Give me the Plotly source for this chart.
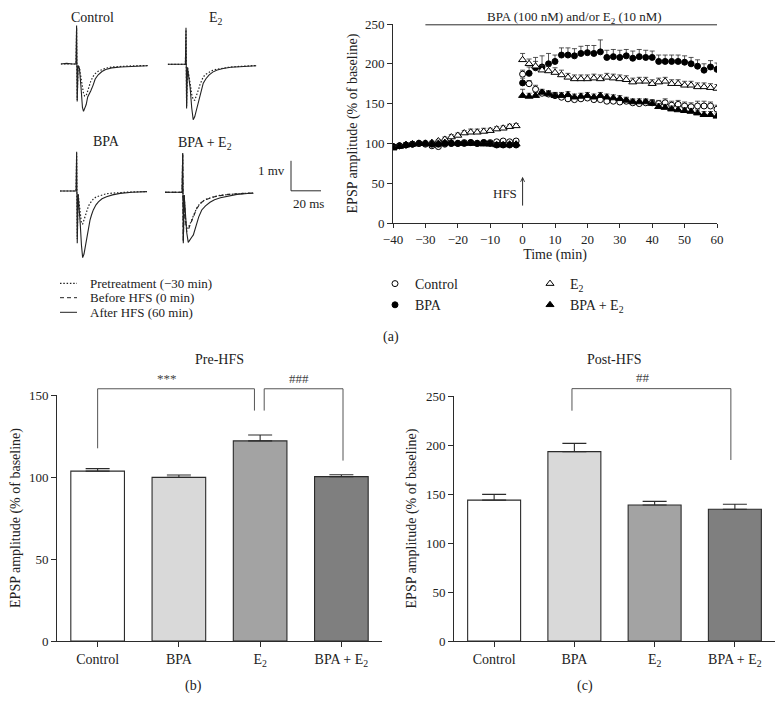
import plotly.graph_objects as go

# the page body adds an 8px margin, so the figure is drawn 8px smaller and all
# positions below are given in page pixels of the 783x712 window
PAGE_W, PAGE_H, BODY = 783, 712, 8
W, H = PAGE_W - BODY, PAGE_H - BODY
FONT = "Liberation Serif"
INK = "#2b2b2b"

# ---------------- time course data (% of baseline) ----------------
times_pre = [-40, -38, -36, -34, -32, -30, -28, -26, -24, -22, -20, -18, -16, -14, -12, -10, -8, -6, -4, -2]
times_post = [0, 2, 4, 6, 8, 10, 12, 14, 16, 18, 20, 22, 24, 26, 28, 30, 32, 34, 36, 38, 40,
              42, 44, 46, 48, 50, 52, 54, 56, 58, 60]
times = times_pre + times_post

control_tc = [96, 97, 98, 99, 100, 99, 97, 96, 99, 100, 100, 101, 101, 100, 101, 101, 102, 103, 102, 103,
              187, 175, 168, 163, 162, 160, 158, 156, 155, 156, 157, 155, 155, 153, 153, 152, 153, 151, 150, 151, 151,
              150, 151, 148, 149, 147, 146, 147, 147, 147, 143]
control_err = [2, 2, 2, 2, 2, 2, 2, 2, 2, 2, 2, 2, 2, 2, 2, 2, 2, 2, 2, 2,
               5, 4, 5, 4, 4, 4, 4, 4, 4, 4, 4, 4, 4, 4, 4, 4, 4, 4, 4, 4, 4,
               4, 5, 5, 5, 5, 5, 6, 6, 5, 5]
bpa_tc = [96, 97, 98, 99, 100, 100, 99, 99, 100, 100, 100, 100, 101, 100, 101, 100, 98, 98, 98, 98,
          176, 188, 195, 196, 200, 203, 211, 211, 210, 213, 214, 213, 215, 208, 209, 208, 210, 207, 209, 208, 208,
          203, 203, 203, 203, 202, 200, 197, 192, 196, 193]
bpa_err = [2, 2, 2, 2, 2, 2, 2, 2, 2, 2, 2, 2, 2, 2, 2, 2, 2, 2, 2, 2,
           6, 8, 13, 14, 13, 8, 9, 9, 9, 9, 9, 10, 15, 9, 9, 9, 8, 9, 9, 9, 8,
           8, 8, 8, 8, 8, 8, 8, 8, 8, 8]
e2_tc = [95, 97, 98, 99, 100, 100, 101, 103, 105, 108, 110, 113, 114, 114, 115, 116, 118, 119, 121, 122,
         205, 200, 197, 192, 191, 189, 186, 183, 181, 181, 181, 182, 181, 183, 182, 181, 180, 177, 178, 178, 175,
         177, 178, 175, 175, 173, 173, 171, 171, 170, 169]
e2_err = [2, 2, 2, 2, 2, 2, 2, 2, 3, 3, 3, 3, 4, 4, 4, 3, 3, 3, 3, 3,
          8, 6, 6, 6, 6, 6, 6, 5, 5, 5, 5, 5, 5, 5, 5, 5, 5, 5, 5, 5, 5,
          5, 5, 5, 5, 5, 5, 5, 5, 5, 5]
bpae2_tc = [94, 96, 98, 99, 100, 100, 100, 100, 101, 101, 100, 100, 100, 100, 99, 99, 98, 98, 99, 99,
            160, 159, 160, 164, 162, 160, 160, 161, 158, 159, 160, 158, 160, 158, 157, 156, 154, 152, 152, 152, 150,
            146, 145, 143, 142, 141, 140, 138, 136, 136, 134]
bpae2_err = [2, 2, 2, 2, 2, 2, 2, 2, 2, 2, 2, 2, 2, 2, 2, 2, 2, 2, 2, 2,
             8, 4, 4, 4, 4, 4, 4, 4, 4, 4, 4, 4, 4, 4, 4, 4, 4, 4, 4, 4, 4,
             4, 4, 4, 4, 4, 4, 4, 4, 4, 4]

# ---------------- bar chart data ----------------
groups = ["Control", "BPA", "E<sub>2</sub>", "BPA + E<sub>2</sub>"]
bar_colors = ["#ffffff", "#d9d9d9", "#a3a3a3", "#7f7f7f"]
pre_hfs = [103.6, 99.8, 122.0, 100.2]
pre_hfs_err = [1.5, 1.4, 3.6, 1.2]
post_hfs = [143.8, 193.2, 138.8, 134.4]
post_hfs_err = [5.8, 8.5, 3.7, 5.1]

# brackets: left x, right x, left foot, top, right foot, label
pre_brackets = [(0, 1.93, 117.5, 153.8, 140.5, "***"), (2.05, 3.02, 140.5, 153.8, 110.0, "###")]
post_brackets = [(0.97, 2.95, 235.0, 257.5, 184.7, "##")]

# ---------------- example field potential traces (ms, mV) ----------------
ctrl_t = [0, 4, 8, 10.2, 10.6, 11.0, 11.6, 12.5, 13.5, 14.5, 15.2, 16, 17, 18, 19, 20, 21.5, 23, 25, 27.5, 30, 34, 40, 48, 58]
ctrl_after = [0, 0.02, 0, 0, 1.28, -1.25, -0.05, -0.15, -0.75, -1.45, -1.58, -1.5, -1.35, -1.1, -0.97, -0.9, -0.72, -0.5,
              -0.36, -0.25, -0.18, -0.13, -0.1, -0.08, -0.06]
ctrl_pre = [0, 0, 0, 0, 1.2, -1.2, -0.05, -0.12, -0.45, -0.8, -0.98, -1.07, -1.05, -0.9, -0.72, -0.58, -0.42, -0.32,
            -0.24, -0.18, -0.14, -0.1, -0.08, -0.06, -0.05]

e2_t = [0, 4, 8, 11.8, 12.2, 12.6, 13.2, 14, 15, 16, 17, 18, 19.3, 20.5, 21.5, 22.5, 23.7, 25.5, 27.5, 30, 33, 37, 42, 48, 54, 59]
e2_after = [0, 0, 0, 0, 1.22, -1.47, -0.1, -0.35, -0.8, -1.45, -1.85, -1.75, -1.47, -1.25, -1.06, -0.85, -0.63, -0.48,
            -0.36, -0.26, -0.19, -0.14, -0.1, -0.08, -0.06, -0.05]
e2_pre = [0, 0, 0, 0, 1.15, -1.4, -0.1, -0.3, -0.65, -1.0, -1.18, -1.2, -1.05, -0.85, -0.68, -0.55, -0.42, -0.33,
          -0.26, -0.2, -0.16, -0.12, -0.09, -0.07, -0.05, -0.04]

bpa_t = [0, 4, 8, 10.7, 11.1, 11.5, 12.1, 12.8, 13.5, 14.3, 15.1, 16, 17, 18, 19, 20, 21, 22.2, 24, 25.6, 28, 31, 35, 40, 48, 58]
bpa_after = [0, 0, 0, 0, 1.31, -1.74, -0.1, -0.5, -1.1, -1.8, -2.22, -2.1, -1.8, -1.5, -1.22, -0.97, -0.8, -0.63,
             -0.46, -0.36, -0.26, -0.19, -0.13, -0.08, -0.04, -0.02]
bpa_pre = [0, 0, 0, 0, 1.25, -1.6, -0.1, -0.45, -0.85, -1.08, -1.1, -0.95, -0.78, -0.62, -0.5, -0.41, -0.34, -0.27,
           -0.2, -0.17, -0.12, -0.09, -0.07, -0.05, -0.03, -0.02]

be_t = [0, 4, 8, 11.4, 11.8, 12.2, 12.8, 13.5, 14.5, 15.5, 16.7, 17.8, 18.9, 20, 21.1, 22.5, 24.5, 27, 30, 33, 37, 42, 48, 55, 59]
be_after = [0, 0, 0, 0, 1.3, -1.7, -0.1, -0.6, -1.35, -1.67, -1.6, -1.5, -1.42, -1.22, -1.03, -0.82, -0.59, -0.45,
            -0.33, -0.25, -0.18, -0.12, -0.07, -0.04, -0.03]
be_before = [0, 0, 0, 0, 1.3, -1.65, -0.1, -0.9, -1.31, -1.25, -1.09, -0.95, -0.81, -0.66, -0.55, -0.45, -0.33, -0.25,
             -0.2, -0.15, -0.11, -0.07, -0.05, -0.03, -0.02]
be_pre = [0, 0, 0, 0, 1.25, -1.6, -0.1, -0.8, -1.2, -1.18, -1.05, -0.92, -0.78, -0.64, -0.53, -0.43, -0.32, -0.24,
          -0.18, -0.14, -0.1, -0.07, -0.05, -0.03, -0.02]

scale_mv, scale_ms = 1, 20

DOT = "1.5px,1.8px"
DASH = "4px,3px"


def fx(px):
    return (px - BODY) / W


def fy(py):
    return 1 - (py - BODY) / H


def dom_x(a, b):
    return [fx(a), fx(b)]


def dom_y(top, bottom):
    return [fy(bottom), fy(top)]


fig = go.Figure()

# ---- time course ----
tc_series = [
    ("Control", control_tc, control_err, "circle", "white", "legend"),
    ("BPA", bpa_tc, bpa_err, "circle", "black", "legend"),
    ("E<sub>2</sub>", e2_tc, e2_err, "triangle-up", "white", "legend2"),
    ("BPA + E<sub>2</sub>", bpae2_tc, bpae2_err, "triangle-up", "black", "legend2"),
]
for name, vals, err, sym, fill, leg in tc_series:
    fig.add_trace(go.Scatter(
        x=times, y=vals, mode="markers", name=name, legend=leg,
        marker=dict(symbol=sym, size=6 if sym == "circle" else 7, color=fill, line=dict(color="black", width=1)),
        error_y=dict(type="data", array=err, arrayminus=[0] * len(err), symmetric=False,
                     color=INK, thickness=0.8, width=2.5),
        xaxis="x", yaxis="y",
    ))

# ---- bar charts ----
for vals, err, ax in [(pre_hfs, pre_hfs_err, "2"), (post_hfs, post_hfs_err, "3")]:
    fig.add_trace(go.Bar(
        x=groups, y=vals, width=0.66, showlegend=False,
        marker=dict(color=bar_colors, line=dict(color=INK, width=1.1)),
        error_y=dict(type="data", array=err, arrayminus=[0] * len(err), symmetric=False,
                     color=INK, thickness=1.1, width=12),
        xaxis="x" + ax, yaxis="y" + ax,
    ))

# ---- example traces ----
panels = [
    ("4", ctrl_t, [(ctrl_pre, DOT), (ctrl_after, "solid")]),
    ("5", e2_t, [(e2_pre, DOT), (e2_after, "solid")]),
    ("6", bpa_t, [(bpa_pre, DOT), (bpa_after, "solid")]),
    ("7", be_t, [(be_pre, DOT), (be_after, "solid"), (be_before, DASH)]),
]
for ax, t, traces in panels:
    for v, dash in traces:
        fig.add_trace(go.Scatter(
            x=t, y=v, mode="lines", showlegend=False, hoverinfo="skip",
            line=dict(color="#222", width=1.2 if dash == DOT else 1.1, dash=dash),
            xaxis="x" + ax, yaxis="y" + ax,
        ))

axis_style = dict(showline=True, linecolor=INK, linewidth=1, ticks="outside", tickcolor=INK,
                  ticklen=5, tickwidth=1, showgrid=False, zeroline=False, automargin=False,
                  tickfont=dict(family=FONT, size=13, color="#222"))
hidden = dict(visible=False, showgrid=False, zeroline=False, automargin=False)
ytitle = "EPSP amplitude (% of baseline)"
cat_font = dict(family=FONT, size=14, color="#222")

layout = dict(
    width=W, height=H, margin=dict(l=0, r=0, t=0, b=0, autoexpand=False),
    paper_bgcolor="white", plot_bgcolor="white",
    font=dict(family=FONT, size=13, color="#222"),
    xaxis=dict(axis_style, domain=dom_x(393, 717), range=[-40, 60], tickvals=list(range(-40, 61, 10)),
               ticklen=4, anchor="y",
               title=dict(text="Time (min)", font=dict(size=14), standoff=0)),
    yaxis=dict(axis_style, domain=dom_y(24, 223), range=[0, 250], tickvals=list(range(0, 251, 50)),
               anchor="x", title=dict(text=ytitle, font=dict(size=14), standoff=4)),
    xaxis2=dict(axis_style, domain=dom_x(57, 382), range=[-0.5, 3.5], anchor="y2", tickfont=cat_font),
    yaxis2=dict(axis_style, domain=dom_y(395, 641), range=[0, 150], tickvals=[0, 50, 100, 150],
                anchor="x2", title=dict(text=ytitle, font=dict(size=14), standoff=6)),
    xaxis3=dict(axis_style, domain=dom_x(454, 775), range=[-0.5, 3.5], anchor="y3", tickfont=cat_font),
    yaxis3=dict(axis_style, domain=dom_y(396, 641), range=[0, 250], tickvals=list(range(0, 251, 50)),
                anchor="x3", title=dict(text=ytitle, font=dict(size=14), standoff=6)),
    xaxis4=dict(hidden, domain=dom_x(60.7, 150.7), range=[0, 60], anchor="y4"),
    yaxis4=dict(hidden, domain=dom_y(19, 124), range=[-2.0, 1.5], anchor="x4"),
    xaxis5=dict(hidden, domain=dom_x(167.7, 257.7), range=[0, 60], anchor="y5"),
    yaxis5=dict(hidden, domain=dom_y(19.3, 130.3), range=[-2.2, 1.5], anchor="x5"),
    xaxis6=dict(hidden, domain=dom_x(60, 150), range=[0, 60], anchor="y6"),
    yaxis6=dict(hidden, domain=dom_y(146, 266), range=[-2.5, 1.5], anchor="x6"),
    xaxis7=dict(hidden, domain=dom_x(165, 325), range=[0, 106.67], anchor="y7"),
    yaxis7=dict(hidden, domain=dom_y(147.3, 252.3), range=[-2.0, 1.5], anchor="x7"),
    legend=dict(x=fx(375), y=fy(268), xanchor="left", yanchor="top", bgcolor="rgba(0,0,0,0)",
                font=dict(family=FONT, size=14), itemwidth=30, tracegroupgap=0),
    legend2=dict(x=fx(530), y=fy(268), xanchor="left", yanchor="top", bgcolor="rgba(0,0,0,0)",
                 font=dict(family=FONT, size=14), itemwidth=30, tracegroupgap=0),
    bargap=0.3,
)
fig.update_layout(**layout)

shapes = []
annotations = []


def label(text, px, py, size=13, xanchor="center", yanchor="middle"):
    annotations.append(dict(text=text, x=fx(px), y=fy(py), xref="paper", yref="paper",
                            xanchor=xanchor, yanchor=yanchor, showarrow=False,
                            borderpad=0, font=dict(size=size)))


# treatment bar over the time course
shapes.append(dict(type="line", xref="x", yref="y", x0=-30, x1=60, y0=249, y1=249,
                   line=dict(color=INK, width=1)))
label("BPA (100 nM) and/or E<sub>2</sub> (10 nM)", 574, 8, yanchor="top")
# HFS arrow
annotations.append(dict(text="", x=0, y=58, ax=0, ay=20, xref="x", yref="y", axref="x", ayref="y",
                        showarrow=True, arrowhead=5, arrowsize=0.8, arrowwidth=1, arrowcolor=INK))
annotations.append(dict(text="HFS", x=-1, y=37, xref="x", yref="y", xanchor="right", yanchor="middle",
                        showarrow=False, font=dict(size=13)))


# significance brackets, placed in axis-domain units so they may rise above the axis top
def add_brackets(brackets, ax, ymax):
    for x0, x1, foot0, top, foot1, text in brackets:
        dx0, dx1 = (x0 + 0.5) / 4, (x1 + 0.5) / 4
        path = "M {a},{b} L {a},{c} L {d},{c} L {d},{e}".format(
            a=dx0, b=foot0 / ymax, c=top / ymax, d=dx1, e=foot1 / ymax)
        shapes.append(dict(type="path", path=path, xref="x%s domain" % ax, yref="y%s domain" % ax,
                           line=dict(color="#555", width=1)))
        annotations.append(dict(text=text, x=(dx0 + dx1) / 2 - 0.055 * (dx1 - dx0), y=top / ymax + 0.005,
                                xref="x%s domain" % ax, yref="y%s domain" % ax,
                                xanchor="center", yanchor="bottom", showarrow=False,
                                font=dict(size=13, color="#444")))


add_brackets(pre_brackets, "2", 150)
add_brackets(post_brackets, "3", 250)

# scale bar in the BPA + E2 trace axes
sb_x, sb_y = 84, 0.05
shapes.append(dict(type="line", xref="x7", yref="y7", x0=sb_x, x1=sb_x, y0=sb_y, y1=sb_y + scale_mv,
                   line=dict(color=INK, width=1)))
shapes.append(dict(type="line", xref="x7", yref="y7", x0=sb_x, x1=sb_x + scale_ms, y0=sb_y, y1=sb_y,
                   line=dict(color=INK, width=1)))
label("%d mv" % scale_mv, 286, 170, xanchor="right")
label("%d ms" % scale_ms, 308, 203)

# trace panel titles
label("Control", 92, 9, size=14, yanchor="top")
label("E<sub>2</sub>", 216, 9, size=14, yanchor="top")
label("BPA", 106, 142, size=14)
label("BPA + E<sub>2</sub>", 205, 143, size=14)

# trace legend
for txt, dash, py in [("Pretreatment (\u221230 min)", DOT, 283.3),
                      ("Before HFS (0 min)", DASH, 297.7),
                      ("After HFS (60 min)", "solid", 312.3)]:
    shapes.append(dict(type="line", xref="paper", yref="paper", x0=fx(60), x1=fx(77), y0=fy(py), y1=fy(py),
                       line=dict(color="#222", width=1.2 if dash == DOT else 1, dash=dash)))
    label(txt, 89, py, xanchor="left")

# panel titles and letters
for txt, px, py in [("Pre-HFS", 219, 359), ("Post-HFS", 614, 359),
                    ("(a)", 391, 337), ("(b)", 193, 686), ("(c)", 585, 686)]:
    label(txt, px, py, size=14)

fig.update_layout(shapes=shapes, annotations=annotations)
fig.write_html("out.html")
